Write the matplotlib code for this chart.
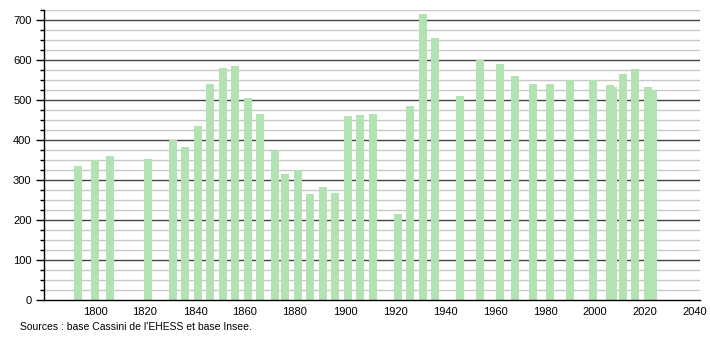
import matplotlib
matplotlib.use("Agg")
import matplotlib.pyplot as plt
from matplotlib.ticker import MultipleLocator

years = [1793, 1800, 1806, 1821, 1831, 1836, 1841, 1846, 1851, 1856,
         1861, 1866, 1872, 1876, 1881, 1886, 1891, 1896, 1901, 1906,
         1911, 1921, 1926, 1931, 1936, 1946, 1954, 1962, 1968, 1975,
         1982, 1990, 1999, 2006, 2007, 2011, 2016, 2021, 2023]
population = [336, 350, 360, 352, 400, 382, 435, 540, 580, 585,
              505, 465, 373, 315, 324, 265, 282, 268, 460, 462,
              465, 215, 485, 715, 655, 510, 600, 590, 560, 540,
              540, 550, 550, 537, 533, 565, 577, 533, 525]
x_ticks = [1800, 1820, 1840, 1860, 1880, 1900, 1920, 1940, 1960, 1980, 2000, 2020, 2040]
y_ticks = [0, 100, 200, 300, 400, 500, 600, 700]
source_text = "Sources : base Cassini de l'EHESS et base Insee."

plt.rcParams['font.family'] = ['Liberation Sans', 'DejaVu Sans']

fig = plt.figure(figsize=(7.1, 3.4), dpi=100)
ax = fig.add_axes([44/710, 40/340, 656/710, 290/340])

ax.set_xlim(1779.6, 2042.0)
ax.set_ylim(0, 725)

for v in range(25, 726, 25):
    if v % 100 == 0:
        ax.axhline(v, color='#444444', lw=1.0, zorder=1)
    else:
        ax.axhline(v, color='#c8c8c8', lw=1.0, zorder=1)

ax.bar(years, population, width=3.2, color='#b3e3b3', zorder=2)

for s in ['top', 'right']:
    ax.spines[s].set_visible(False)
ax.spines['left'].set_color('black')
ax.spines['bottom'].set_color('black')
ax.spines['left'].set_linewidth(1.0)
ax.spines['bottom'].set_linewidth(1.0)
ax.spines['left'].set_zorder(3)
ax.spines['bottom'].set_zorder(3)

ax.set_yticks(y_ticks)
ax.yaxis.set_minor_locator(MultipleLocator(25))
ax.tick_params(axis='y', which='major', length=6, width=1, labelsize=8, pad=3)
ax.tick_params(axis='y', which='minor', length=3, width=1)
ax.set_xticks(x_ticks)
ax.set_xticklabels([str(t) for t in x_ticks])
ax.tick_params(axis='x', which='major', length=0, labelsize=8, pad=5)

fig.text(20/710, 1 - 327/340, source_text, fontsize=7.5, ha='left', va='center')

fig.savefig("out.png", dpi=100)
